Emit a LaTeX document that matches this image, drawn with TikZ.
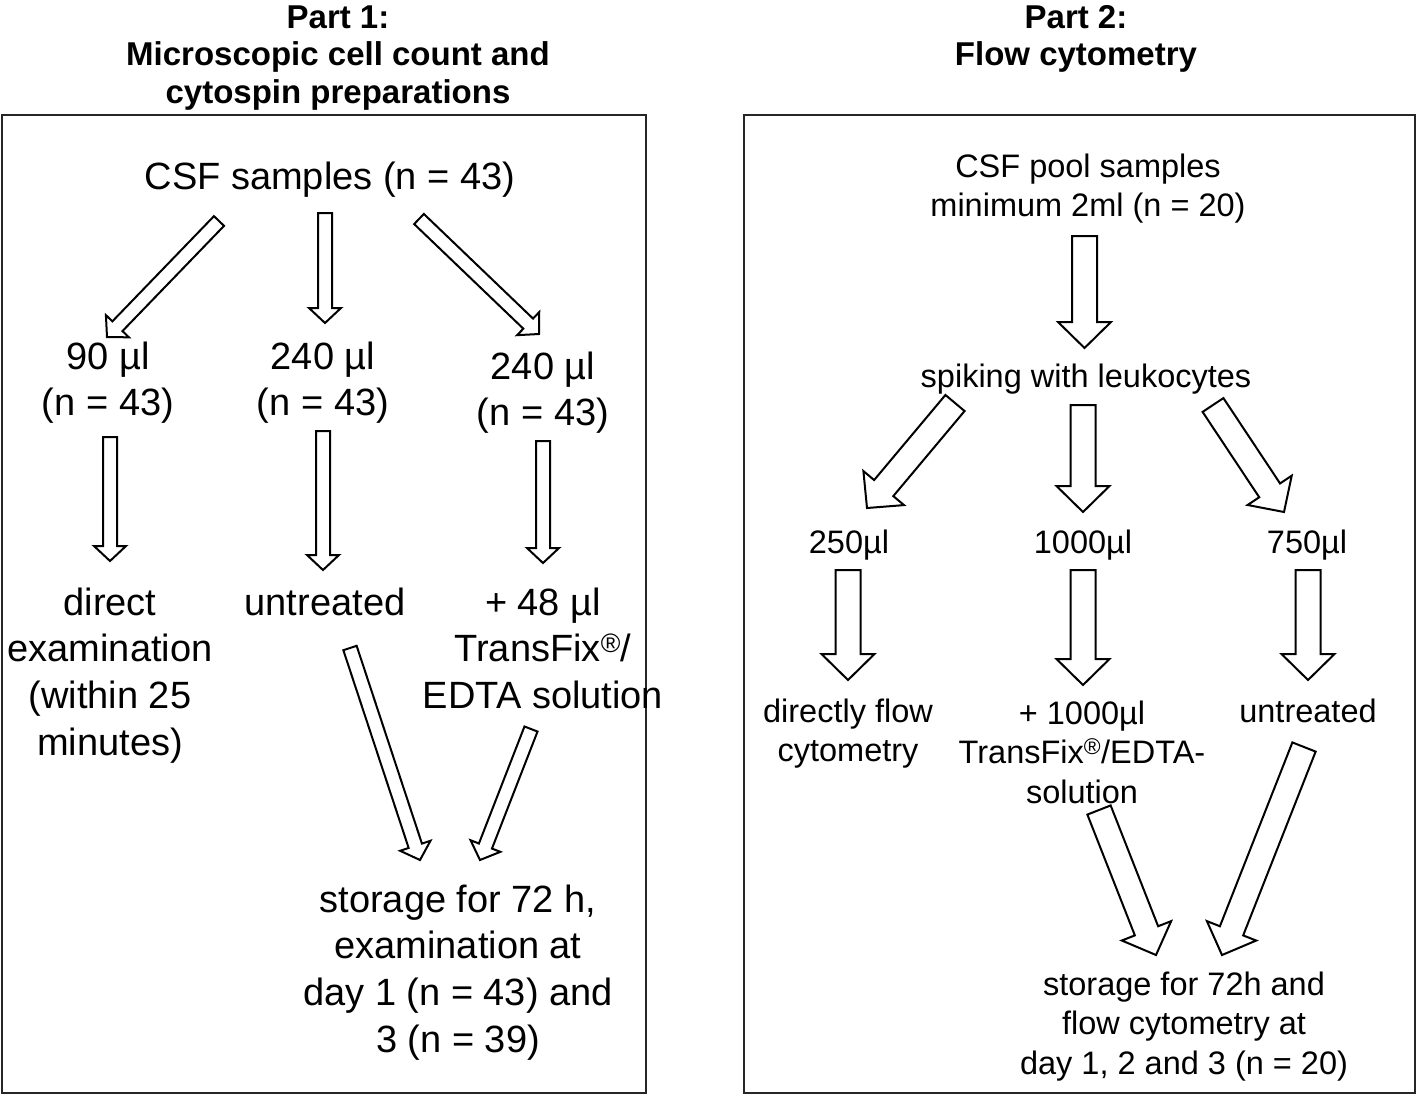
\documentclass[tikz,border=0pt]{standalone}
\usepackage{fontspec}
\setmainfont{Liberation Sans}
\usetikzlibrary{calc}
\tikzset{
 lt/.style={font=\fontsize{38}{46.7}\selectfont, align=center, inner sep=0pt, anchor=base},
 rt/.style={font=\fontsize{32.5}{39.5}\selectfont, align=center, inner sep=0pt, anchor=base},
 ttl/.style={font=\bfseries\fontsize{33}{37.5}\selectfont, align=center, inner sep=0pt, anchor=base},
 panel/.style={draw=black!85, line width=1.6pt},
 blockline/.style={draw=black, line width=2pt, line join=miter, fill=white},
}
% #1 start, #2 tip, #3 shaft half width, #4 head half width, #5 head length
\newcommand\blockarrow[5]{%
 \coordinate (ba-h) at ($(#2)!#5!(#1)$);
 \draw[blockline] ($(#1)!#3!90:(#2)$) -- ($(ba-h)!#3!-90:(#1)$) -- ($(ba-h)!#4!-90:(#1)$) -- (#2)
   -- ($(ba-h)!#4!90:(#1)$) -- ($(ba-h)!#3!90:(#1)$) -- ($(#1)!#3!-90:(#2)$) -- cycle;
}
\begin{document}
\begin{tikzpicture}[x=1pt,y=-1pt]
\useasboundingbox (0,0) rectangle (1418,1096);
% panels
\draw[panel] (2,115) rectangle (646,1093);
\draw[panel] (744,115) rectangle (1415,1093);
% titles (anchor base = last line)
\node[ttl] (t1) at (338,103) {Part 1:\\Microscopic cell count and\\cytospin preparations};
\node[ttl] (t2) at (1076,65.5) {Part 2:\\Flow cytometry};
% left texts
\node[lt] (n0) at (330,189) {CSF samples (n = 43)};
\node[lt] (n1) at (108,415.7) {90 µl\\(n = 43)};
\node[lt] (n2) at (323,415.7) {240 µl\\(n = 43)};
\node[lt] (n3) at (543,425.7) {240 µl\\(n = 43)};
\node[lt] (n4) at (110,755.1) {direct\\examination\\(within 25\\minutes)};
\node[lt] (n5) at (325,615) {untreated};
\node[lt] (n6) at (543,708.4) {+ 48 µl\\TransFix\textsuperscript{®}/\\EDTA solution};
\node[lt] (n7) at (458,1052.1) {storage for 72 h,\\examination at\\day 1 (n = 43) and\\3 (n = 39)};
% right texts
\node[rt] (m0) at (1088,216.5) {CSF pool samples\\minimum 2ml (n = 20)};
\node[rt] (m1) at (1086,387) {spiking with leukocytes};
\node[rt] (m2) at (849,553) {250µl};
\node[rt] (m3) at (1083,553) {1000µl};
\node[rt] (m4) at (1307,553) {750µl};
\node[rt] (m5) at (848,761.5) {directly flow\\cytometry};
\node[rt] (m6) at (1082,803) {+ 1000µl\\TransFix\textsuperscript{®}/EDTA-\\solution};
\node[rt] (m7) at (1308,722) {untreated};
\node[rt] (m8) at (1184,1074) {storage for 72h and\\flow cytometry at\\day 1, 2 and 3 (n = 20)};
% arrow end points (left)
\coordinate (a1s) at (219,221); \coordinate (a1e) at (107,337);
\coordinate (a2s) at (325,213); \coordinate (a2e) at (325,323);
\coordinate (a3s) at (419,219); \coordinate (a3e) at (539,334);
\coordinate (b1s) at (110,437); \coordinate (b1e) at (110,561);
\coordinate (b2s) at (323,431); \coordinate (b2e) at (323,570);
\coordinate (b3s) at (543,441); \coordinate (b3e) at (543,563);
\coordinate (c1s) at (350,648); \coordinate (c1e) at (420,860);
\coordinate (c2s) at (531,729); \coordinate (c2e) at (480,860);
\blockarrow{a1s}{a1e}{7pt}{16pt}{15pt}
\blockarrow{a2s}{a2e}{7pt}{16pt}{15pt}
\blockarrow{a3s}{a3e}{7pt}{16pt}{15pt}
\blockarrow{b1s}{b1e}{7pt}{16pt}{15pt}
\blockarrow{b2s}{b2e}{7pt}{16pt}{15pt}
\blockarrow{b3s}{b3e}{7pt}{16pt}{15pt}
\blockarrow{c1s}{c1e}{7pt}{16pt}{15pt}
\blockarrow{c2s}{c2e}{7pt}{16pt}{15pt}
% arrow end points (right)
\coordinate (ds) at (1084.5,236); \coordinate (de) at (1084.5,348);
\coordinate (e1s) at (955,403); \coordinate (e1e) at (867,508);
\coordinate (e2s) at (1083,405); \coordinate (e2e) at (1083,512);
\coordinate (e3s) at (1213,405); \coordinate (e3e) at (1284,512);
\coordinate (f1s) at (848,570); \coordinate (f1e) at (848,680);
\coordinate (f2s) at (1083,570); \coordinate (f2e) at (1083,685);
\coordinate (f3s) at (1308,570); \coordinate (f3e) at (1308,680);
\coordinate (g1s) at (1099,810); \coordinate (g1e) at (1156,955);
\coordinate (g2s) at (1304,747); \coordinate (g2e) at (1222,955);
\blockarrow{ds}{de}{12.5pt}{26.5pt}{26pt}
\blockarrow{e1s}{e1e}{12.5pt}{26.5pt}{26pt}
\blockarrow{e2s}{e2e}{12.5pt}{26.5pt}{26pt}
\blockarrow{e3s}{e3e}{12.5pt}{26.5pt}{26pt}
\blockarrow{f1s}{f1e}{12.5pt}{26.5pt}{26pt}
\blockarrow{f2s}{f2e}{12.5pt}{26.5pt}{26pt}
\blockarrow{f3s}{f3e}{12.5pt}{26.5pt}{26pt}
\blockarrow{g1s}{g1e}{12.5pt}{26.5pt}{26pt}
\blockarrow{g2s}{g2e}{12.5pt}{26.5pt}{26pt}
\end{tikzpicture}
\end{document}
